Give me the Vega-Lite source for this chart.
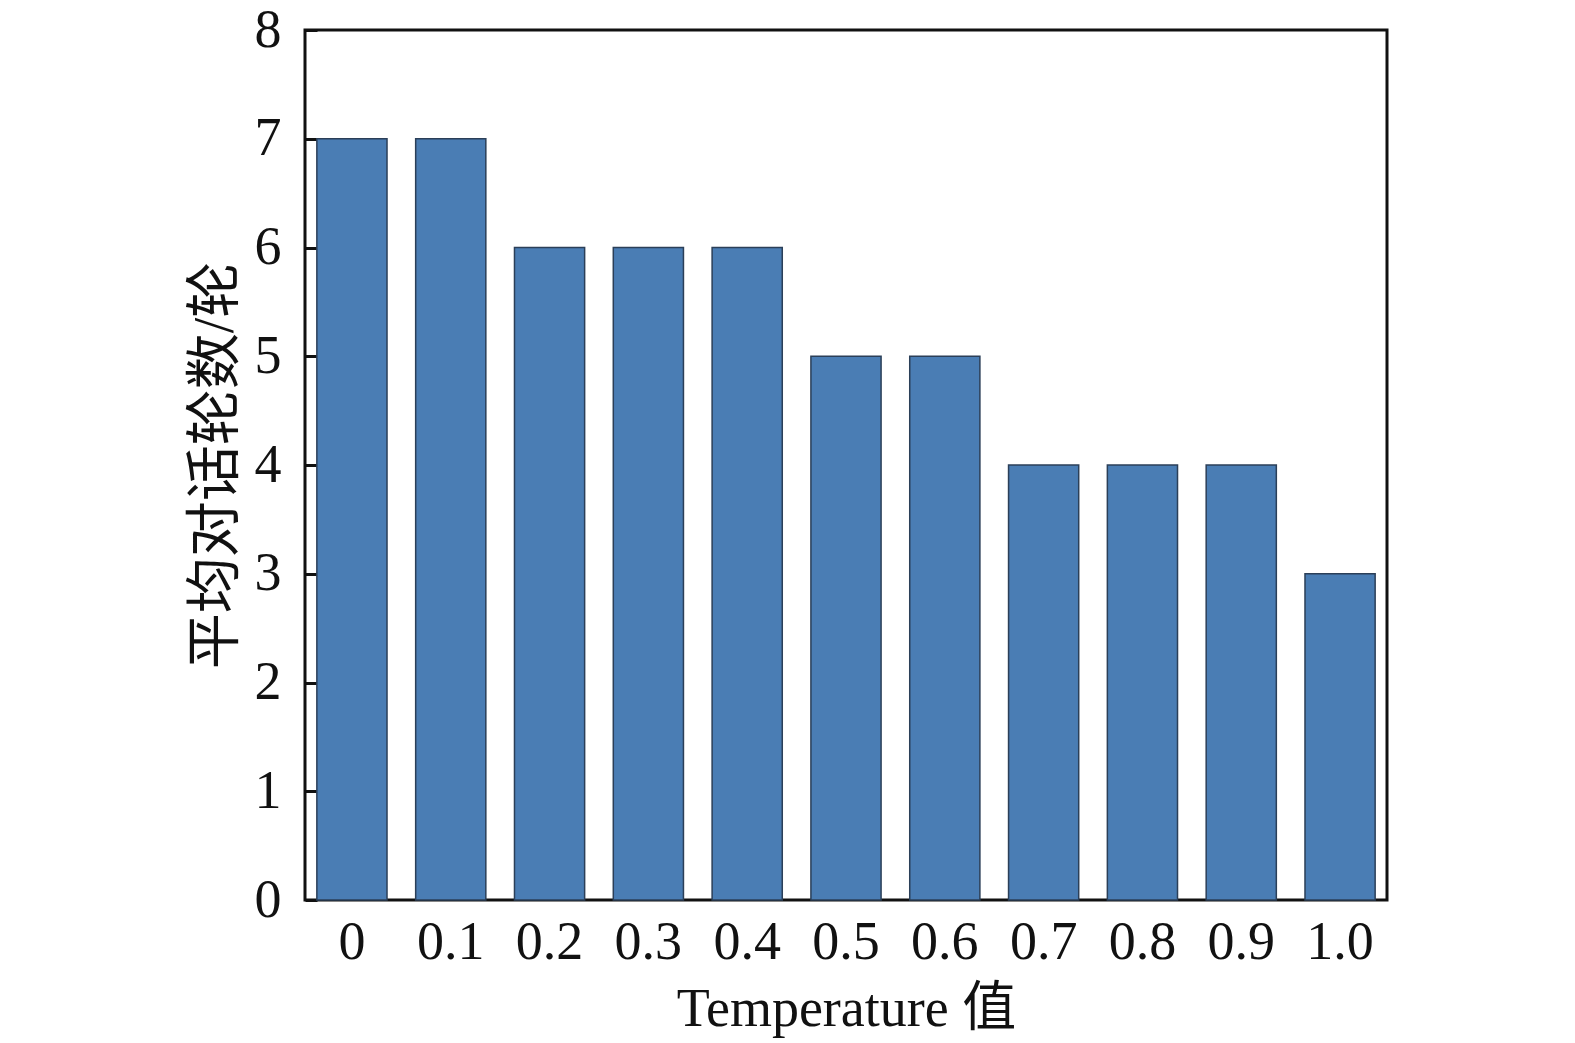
{
  "$schema": "https://vega.github.io/schema/vega-lite/v6.json",
  "autosize": {"type": "none"},
  "padding": {"left": 305, "top": 30, "right": 188, "bottom": 143},
  "width": 1082,
  "height": 870,
  "background": "white",
  "config": {
    "view": {"stroke": "#111111", "strokeWidth": 3},
    "font": "Liberation Serif"
  },
  "data": {
    "values": [
      {"t": "0", "v": 7},
      {"t": "0.1", "v": 7},
      {"t": "0.2", "v": 6},
      {"t": "0.3", "v": 6},
      {"t": "0.4", "v": 6},
      {"t": "0.5", "v": 5},
      {"t": "0.6", "v": 5},
      {"t": "0.7", "v": 4},
      {"t": "0.8", "v": 4},
      {"t": "0.9", "v": 4},
      {"t": "1.0", "v": 3}
    ]
  },
  "mark": {"type": "bar", "fill": "#4a7db4", "stroke": "#2b3f58", "strokeWidth": 1.5},
  "encoding": {
    "x": {
      "field": "t",
      "type": "ordinal",
      "sort": null,
      "scale": {"paddingInner": 0.29, "paddingOuter": 0.12},
      "axis": {
        "title": "Temperature 值",
        "titleFont": "Liberation Serif, Noto Sans CJK SC",
        "titleFontSize": 54,
        "titleFontWeight": "normal",
        "titleColor": "#111111",
        "titlePadding": 13,
        "labelFont": "Liberation Serif",
        "labelFontSize": 54,
        "labelColor": "#111111",
        "labelAngle": 0,
        "labelPadding": 15,
        "ticks": false,
        "domain": false
      }
    },
    "y": {
      "field": "v",
      "type": "quantitative",
      "scale": {"domain": [0, 8]},
      "axis": {
        "title": "平均对话轮数/轮",
        "titleFont": "Liberation Serif, Noto Sans CJK SC",
        "titleFontSize": 56,
        "titleFontWeight": "normal",
        "titleColor": "#111111",
        "titlePadding": 10,
        "labelFont": "Liberation Serif",
        "labelFontSize": 54,
        "labelColor": "#111111",
        "labelPadding": 36,
        "values": [0, 1, 2, 3, 4, 5, 6, 7, 8],
        "tickSize": -12,
        "tickWidth": 3,
        "tickColor": "#111111",
        "grid": false,
        "domain": false
      }
    }
  }
}
